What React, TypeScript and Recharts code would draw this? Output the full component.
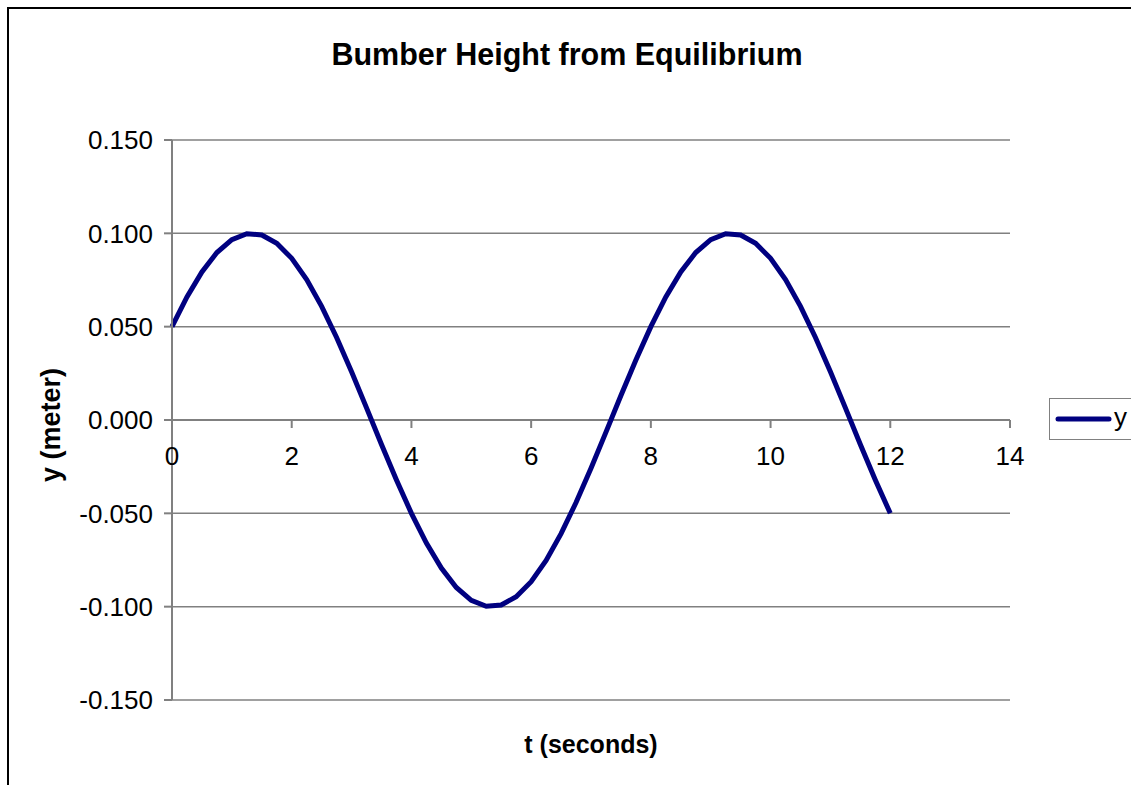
import React from 'react';
import { LineChart, Line, XAxis, YAxis, CartesianGrid, ReferenceLine, Legend } from 'recharts';

const T_VALUES = [
  0, 0.25, 0.5, 0.75, 1, 1.25, 1.5, 1.75, 2, 2.25, 2.5, 2.75, 3, 3.25, 3.5, 3.75,
  4, 4.25, 4.5, 4.75, 5, 5.25, 5.5, 5.75, 6, 6.25, 6.5, 6.75, 7, 7.25, 7.5, 7.75,
  8, 8.25, 8.5, 8.75, 9, 9.25, 9.5, 9.75, 10, 10.25, 10.5, 10.75, 11, 11.25, 11.5, 11.75, 12,
];
const Y_VALUES = [
  0.05, 0.0659, 0.0793, 0.0897, 0.0966, 0.0998, 0.0991, 0.0947, 0.0866, 0.0752, 0.0609, 0.0442, 0.0259, 0.0065, -0.0131, -0.0321,
  -0.05, -0.0659, -0.0793, -0.0897, -0.0966, -0.0998, -0.0991, -0.0947, -0.0866, -0.0752, -0.0609, -0.0442, -0.0259, -0.0065, 0.0131, 0.0321,
  0.05, 0.0659, 0.0793, 0.0897, 0.0966, 0.0998, 0.0991, 0.0947, 0.0866, 0.0752, 0.0609, 0.0442, 0.0259, 0.0065, -0.0131, -0.0321, -0.05,
];
const X_TICKS = [0, 2, 4, 6, 8, 10, 12, 14];
const Y_TICKS = [-0.15, -0.1, -0.05, 0, 0.05, 0.1, 0.15];
const SERIES_NAME = 'y';
const TITLE = 'Bumber Height from Equilibrium';
const X_LABEL = 't (seconds)';
const Y_LABEL = 'y (meter)';

const data = T_VALUES.map((t, i) => ({ t, y: Y_VALUES[i] }));

const FONT = '"Liberation Sans", Arial, sans-serif';
const AXIS = '#808080';
const LINE = '#000080';
const W = 1131;
const H = 785;
const MARGIN = { top: 140, right: 121, bottom: 0, left: 0 };
const XAXIS_H = 85;
const YAXIS_W = 172;
const PLOT_H = H - MARGIN.top - MARGIN.bottom - XAXIS_H;
const ZERO_Y = MARGIN.top + PLOT_H / 2;

const XTick = (props: any) => {
  const { x, payload } = props;
  return (
    <g>
      <line x1={x} x2={x} y1={ZERO_Y} y2={ZERO_Y + 8} stroke={AXIS} strokeWidth={2} />
      <text x={x} y={ZERO_Y + 45} textAnchor="middle" fontSize={26} fill="#000" fontFamily={FONT}>
        {payload.value}
      </text>
    </g>
  );
};

const renderXLabel = (p: any) => {
  const vb = p.viewBox;
  return (
    <text x={vb.x + vb.width / 2} y={vb.y + 53} textAnchor="middle" fontSize={25} fontWeight="bold" fill="#000" fontFamily={FONT}>
      {X_LABEL}
    </text>
  );
};

const renderYLabel = (p: any) => {
  const vb = p.viewBox;
  const cx = vb.x + 60;
  const cy = vb.y + vb.height / 2 + 5;
  return (
    <text x={cx} y={cy} transform={`rotate(-90 ${cx} ${cy})`} textAnchor="middle" fontSize={27} fontWeight="bold" fill="#000" fontFamily={FONT}>
      {Y_LABEL}
    </text>
  );
};

const renderLegend = () => (
  <div
    style={{
      width: 82,
      height: 42,
      boxSizing: 'border-box',
      borderTop: `1px solid ${AXIS}`,
      borderLeft: `1px solid ${AXIS}`,
      borderBottom: `1px solid ${AXIS}`,
      background: '#fff',
    }}
  >
    <svg width={81} height={40} style={{ display: 'block' }}>
      <line x1={8} x2={59} y1={20} y2={20} stroke={LINE} strokeWidth={5} strokeLinecap="round" />
      <text x={64} y={27} fontSize={26} fill="#000" fontFamily={FONT}>
        {SERIES_NAME}
      </text>
    </svg>
  </div>
);

export default function App() {
  return (
    <div style={{ position: 'absolute', left: 0, top: 0, width: W, height: H, overflow: 'hidden', background: '#fff', fontFamily: FONT }}>
      <div
        style={{
          position: 'absolute',
          left: 7,
          top: 7,
          width: 2000,
          height: 2000,
          border: '2px solid #000',
          boxSizing: 'border-box',
        }}
      />
      <div
        style={{
          position: 'absolute',
          left: 3,
          width: 1128,
          top: 39,
          textAlign: 'center',
          fontSize: 30.5,
          lineHeight: '30.5px',
          fontWeight: 'bold',
          color: '#000',
          fontFamily: FONT,
          whiteSpace: 'nowrap',
        }}
      >
        {TITLE}
      </div>
      <div style={{ position: 'absolute', left: 0, top: 0 }}>
        <LineChart width={W} height={H} data={data} margin={MARGIN}>
          <CartesianGrid vertical={false} stroke={AXIS} strokeWidth={1.5} />
          <XAxis
            dataKey="t"
            type="number"
            domain={[0, 14]}
            ticks={X_TICKS}
            interval={0}
            height={XAXIS_H}
            axisLine={false}
            tickLine={false}
            tick={<XTick />}
            label={renderXLabel}
          />
          <YAxis
            type="number"
            domain={[-0.15, 0.15]}
            ticks={Y_TICKS}
            interval={0}
            width={YAXIS_W}
            tickFormatter={(v: number) => v.toFixed(3)}
            tickSize={8}
            tickMargin={11}
            axisLine={{ stroke: AXIS, strokeWidth: 2 }}
            tickLine={{ stroke: AXIS, strokeWidth: 2 }}
            tick={{ fill: '#000', fontSize: 26, fontFamily: FONT }}
            label={renderYLabel}
          />
          <ReferenceLine y={0} stroke={AXIS} strokeWidth={2} />
          <Legend
            layout="horizontal"
            verticalAlign="middle"
            align="center"
            content={renderLegend}
            wrapperStyle={{ position: 'absolute', left: 1049, top: 398, width: 82, height: 42 }}
          />
          <Line
            type="linear"
            dataKey="y"
            name={SERIES_NAME}
            stroke={LINE}
            strokeWidth={5}
            dot={false}
            isAnimationActive={false}
          />
        </LineChart>
      </div>
    </div>
  );
}
